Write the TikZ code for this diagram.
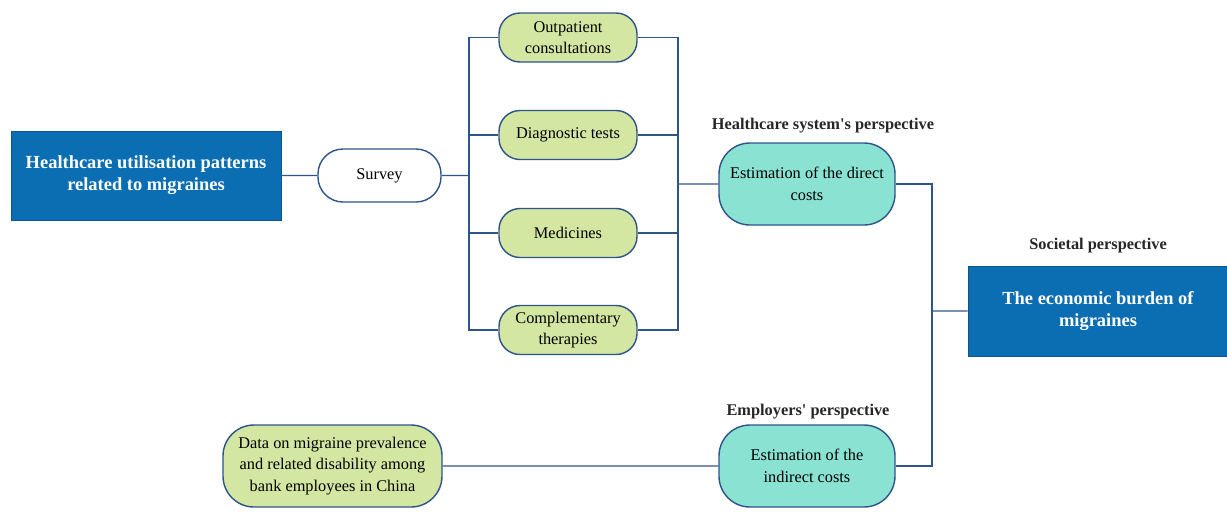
\documentclass[tikz,border=0pt]{standalone}
\usepackage{fontspec}
\setmainfont{Liberation Serif}[Ligatures=TeXOff]
\usepackage{tikz}
\definecolor{boxblue}{RGB}{12,110,178}
\definecolor{boxgreen}{RGB}{211,230,162}
\definecolor{boxteal}{RGB}{138,226,210}
\definecolor{linkblue}{RGB}{46,84,140}
\begin{document}
\begin{tikzpicture}[scale=0.2]
\tikzstyle{every node}+=[inner sep=0pt, align=center, font=\fontsize{9.3}{12.3}\selectfont]
\tikzstyle{mainbox}=[draw=boxblue!80!black, fill=boxblue, text=white, font=\fontsize{10.5}{12.6}\selectfont\bfseries]
\tikzstyle{itembox}=[draw=linkblue, thick, fill=boxgreen, rounded corners=0.42cm, minimum width=2.76cm, minimum height=0.98cm]
\tikzstyle{costbox}=[draw=linkblue, thick, fill=boxteal, rounded corners=0.62cm, minimum width=3.52cm, minimum height=1.64cm]
\tikzstyle{persp}=[font=\fontsize{9.3}{11}\selectfont\bfseries, text=black!85]
\tikzstyle{link}=[draw=linkblue, thick]
\useasboundingbox (0,0) rectangle (122.7,-52.7);
\node [mainbox, minimum width=5.4cm, minimum height=1.78cm] (usage) at (14.6,-17.55) {Healthcare utilisation patterns\\related to migraines};
\node [draw=linkblue, thick, fill=white, rounded corners=0.5cm, minimum width=2.46cm, minimum height=1.06cm] (survey) at (37.95,-17.55) {Survey};
\node [itembox] (outpat) at (56.8,-3.75) {Outpatient\\consultations};
\node [itembox] (diag) at (56.8,-13.5) {Diagnostic tests};
\node [itembox] (med) at (56.8,-23.3) {Medicines};
\node [itembox] (compl) at (56.8,-33) {Complementary\\therapies};
\node [costbox] (direct) at (80.7,-18.4) {Estimation of the direct\\costs};
\node [costbox] (indirect) at (80.7,-46.6) {Estimation of the\\indirect costs};
\node [draw=linkblue, thick, fill=boxgreen, rounded corners=0.62cm, minimum width=4.38cm, minimum height=1.64cm] (data) at (33.25,-46.6) {Data on migraine prevalence\\and related disability among\\bank employees in China};
\node [mainbox, minimum width=5.2cm, minimum height=1.8cm] (burden) at (109.8,-31.1) {The economic burden of\\migraines};
\node [persp] (hcsp) at (82.3,-12.6) {Healthcare system's perspective};
\node [persp] (emp) at (80.8,-41.2) {Employers' perspective};
\node [persp] (soc) at (109.8,-24.6) {Societal perspective};
\coordinate (busl) at (46.9,-17.55);
\coordinate (busr) at (67.8,-18.4);
\coordinate (busf) at (93.2,-31.1);
% left fork
\draw [link] (usage) -- (survey) -- (busl);
\draw [link] (outpat.west) -| (busl) |- (compl.west);
\draw [link] (busl |- diag) -- (diag.west);
\draw [link] (busl |- med) -- (med.west);
% right fork
\draw [link] (outpat.east) -| (busr) |- (compl.east);
\draw [link] (diag.east) -- (busr |- diag);
\draw [link] (med.east) -- (busr |- med);
\draw [link] (busr) -- (direct);
% final join
\draw [link] (direct.east) -| (busf) |- (indirect.east);
\draw [link] (busf) -- (burden);
\draw [link] (data) -- (indirect);
\end{tikzpicture}
\end{document}
